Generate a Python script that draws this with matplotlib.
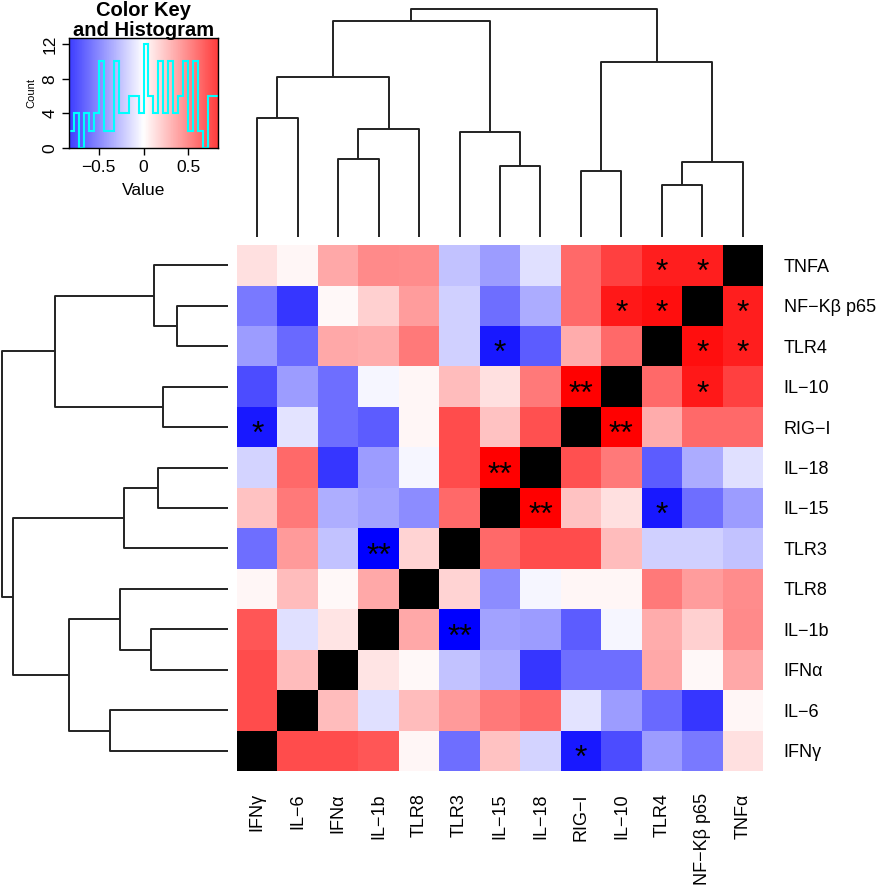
import numpy as np
import matplotlib
matplotlib.use("Agg")
import matplotlib.pyplot as plt
from matplotlib.colors import LinearSegmentedColormap

plt.rcParams['font.family'] = ['Liberation Sans', 'DejaVu Sans']

# ---------------- data ----------------
keys = ["IFNg", "IL-6", "IFNa", "IL-1b", "TLR8", "TLR3", "IL-15", "IL-18",
        "RIG-I", "IL-10", "TLR4", "NFKB", "TNFa"]
col_labels = ["IFNγ", "IL−6", "IFNα", "IL−1b", "TLR8", "TLR3", "IL−15", "IL−18",
              "RIG−I", "IL−10", "TLR4", "NF−Kβ p65", "TNFα"]
row_labels = ["IFNγ", "IL−6", "IFNα", "IL−1b", "TLR8", "TLR3", "IL−15", "IL−18",
              "RIG−I", "IL−10", "TLR4", "NF−Kβ p65", "TNFA"]

# lower triangle of the correlation matrix (row i, columns 0..i-1)
lower_tri = [
    [],
    [0.58],
    [0.58, 0.22],
    [0.55, -0.10, 0.09],
    [0.03, 0.22, 0.02, 0.28],
    [-0.47, 0.33, -0.20, -0.83, 0.14],
    [0.20, 0.43, -0.26, -0.30, -0.37, 0.48],
    [-0.14, 0.48, -0.65, -0.32, -0.03, 0.58, 0.83],
    [-0.75, -0.09, -0.47, -0.53, 0.03, 0.58, 0.20, 0.57],
    [-0.58, -0.32, -0.47, -0.03, 0.03, 0.22, 0.10, 0.43, 0.82],
    [-0.32, -0.48, 0.28, 0.27, 0.43, -0.15, -0.75, -0.53, 0.27, 0.48],
    [-0.43, -0.65, 0.02, 0.15, 0.32, -0.15, -0.47, -0.27, 0.48, 0.75, 0.78],
    [0.10, 0.03, 0.28, 0.38, 0.37, -0.20, -0.32, -0.10, 0.48, 0.62, 0.73, 0.73],
]

# significance marks
stars = [("TNFa", "TLR4", "*"), ("TNFa", "NFKB", "*"), ("NFKB", "IL-10", "*"),
         ("NFKB", "TLR4", "*"), ("TLR4", "IL-15", "*"), ("IL-10", "RIG-I", "**"),
         ("RIG-I", "IFNg", "*"), ("IL-18", "IL-15", "**"), ("TLR3", "IL-1b", "**")]

# hierarchical clustering (same tree for rows and columns): (child, child, height)
merges = [
    ("IFNg", "IL-6", 1.18),    # 0
    ("IFNa", "IL-1b", 0.775),  # 1
    (1, "TLR8", 1.08),         # 2
    (0, 2, 1.595),             # 3
    ("IL-15", "IL-18", 0.705), # 4
    ("TLR3", 4, 1.045),        # 5
    (3, 5, 2.155),             # 6
    ("RIG-I", "IL-10", 0.655), # 7
    ("TLR4", "NFKB", 0.515),   # 8
    (8, "TNFa", 0.745),        # 9
    (7, 9, 1.74),              # 10
    (6, 10, 2.27),             # 11
]

# ---------------- build ----------------
n = len(keys)
M = np.full((n, n), np.nan)
for i, row in enumerate(lower_tri):
    for j, v in enumerate(row):
        M[i, j] = v
        M[j, i] = v

VMAX = 0.83
cmap = LinearSegmentedColormap.from_list("bluered", ["#0000FF", "#FFFFFF", "#FF0000"], N=256)
cmap.set_bad("black")

W, H = 886, 893
fig = plt.figure(figsize=(W / 100, H / 100), dpi=100)


def fx(px):
    return px / W


def fy(py):
    return 1 - py / H


# heatmap
hl, ht, hr, hb = 237, 245, 763, 771
axh = fig.add_axes([fx(hl), fy(hb), fx(hr - hl), (hb - ht) / H])
axh.imshow(M, cmap=cmap, vmin=-VMAX, vmax=VMAX, origin="lower", aspect="auto",
           interpolation="nearest", extent=(-0.5, n - 0.5, -0.5, n - 0.5))
idx = {k: i for i, k in enumerate(keys)}
for a, b, s in stars:
    i, j = idx[a], idx[b]
    for (x, y) in ((i, j), (j, i)):
        axh.text(x, y - 0.2, s, ha="center", va="center", fontsize=23, color="black")
axh.set_xticks(range(n))
axh.set_xticklabels(col_labels, rotation=90, fontsize=13)
axh.set_yticks(range(n))
axh.set_yticklabels(row_labels, fontsize=13)
axh.yaxis.tick_right()
axh.tick_params(length=0, pad=16)
axh.tick_params(axis="y", pad=15)
for sp in axh.spines.values():
    sp.set_visible(False)

# dendrogram geometry
node_x = []


def xof(c):
    return idx[c] if isinstance(c, str) else node_x[c]


def hof(c):
    return 0.0 if isinstance(c, str) else merges[c][2]


segs = []
for a, b, h in merges:
    xa, xb = xof(a), xof(b)
    segs.append(([xa, xa, xb, xb], [hof(a), h, h, hof(b)]))
    node_x.append((xa + xb) / 2)

top_h = max(m[2] for m in merges)
lc = "#222222"
lw = 1.4

# top dendrogram
axt = fig.add_axes([fx(hl), fy(237), fx(hr - hl), (237 - 9) / H])
for xs, hs in segs:
    axt.plot(xs, hs, color=lc, lw=lw, solid_capstyle="butt", clip_on=False)
axt.set_xlim(-0.5, n - 0.5)
axt.set_ylim(0, top_h)
axt.axis("off")

# left dendrogram
axl = fig.add_axes([fx(1.7), fy(hb), fx(228 - 1.7), (hb - ht) / H])
for xs, hs in segs:
    axl.plot(hs, xs, color=lc, lw=lw, solid_capstyle="butt", clip_on=False)
axl.set_ylim(-0.5, n - 0.5)
axl.set_xlim(top_h, 0)
axl.axis("off")

# color key with histogram
vals = M[~np.isnan(M)]
edges = np.linspace(-VMAX, VMAX, 31)
counts, _ = np.histogram(vals, bins=edges)
ktop = max(12.7, counts.max() * 1.05)
axk = fig.add_axes([fx(69), fy(148), fx(218 - 69), (148 - 38) / H])
grad = np.linspace(-VMAX, VMAX, 256).reshape(1, -1) * 0.76
axk.imshow(grad, cmap=cmap, vmin=-VMAX, vmax=VMAX, aspect="auto",
           extent=(-VMAX, VMAX, 0, ktop), origin="lower")
axk.stairs(counts, edges, color="cyan", lw=1.5, baseline=None)
axk.set_xlim(-VMAX, VMAX)
axk.set_ylim(0, ktop)
axk.set_xticks([-0.5, 0, 0.5])
axk.set_xticklabels(["−0.5", "0", "0.5"], fontsize=12.5)
axk.set_yticks([0, 4, 8, 12])
axk.set_yticklabels(["0", "4", "8", "12"], fontsize=12.5, rotation=90, va="center")
axk.set_xlabel("Value", fontsize=12.5, labelpad=6)
axk.set_ylabel("Count", fontsize=8, labelpad=4)
axk.tick_params(length=5, width=1)
for sp in axk.spines.values():
    sp.set_linewidth(1.0)

fig.text(fx(143.5), fy(16), "Color Key", ha="center", va="baseline",
         fontsize=14.5, fontweight="bold")
fig.text(fx(143.5), fy(36.5), "and Histogram", ha="center", va="baseline",
         fontsize=14.5, fontweight="bold")

fig.savefig("out.png", dpi=100)
